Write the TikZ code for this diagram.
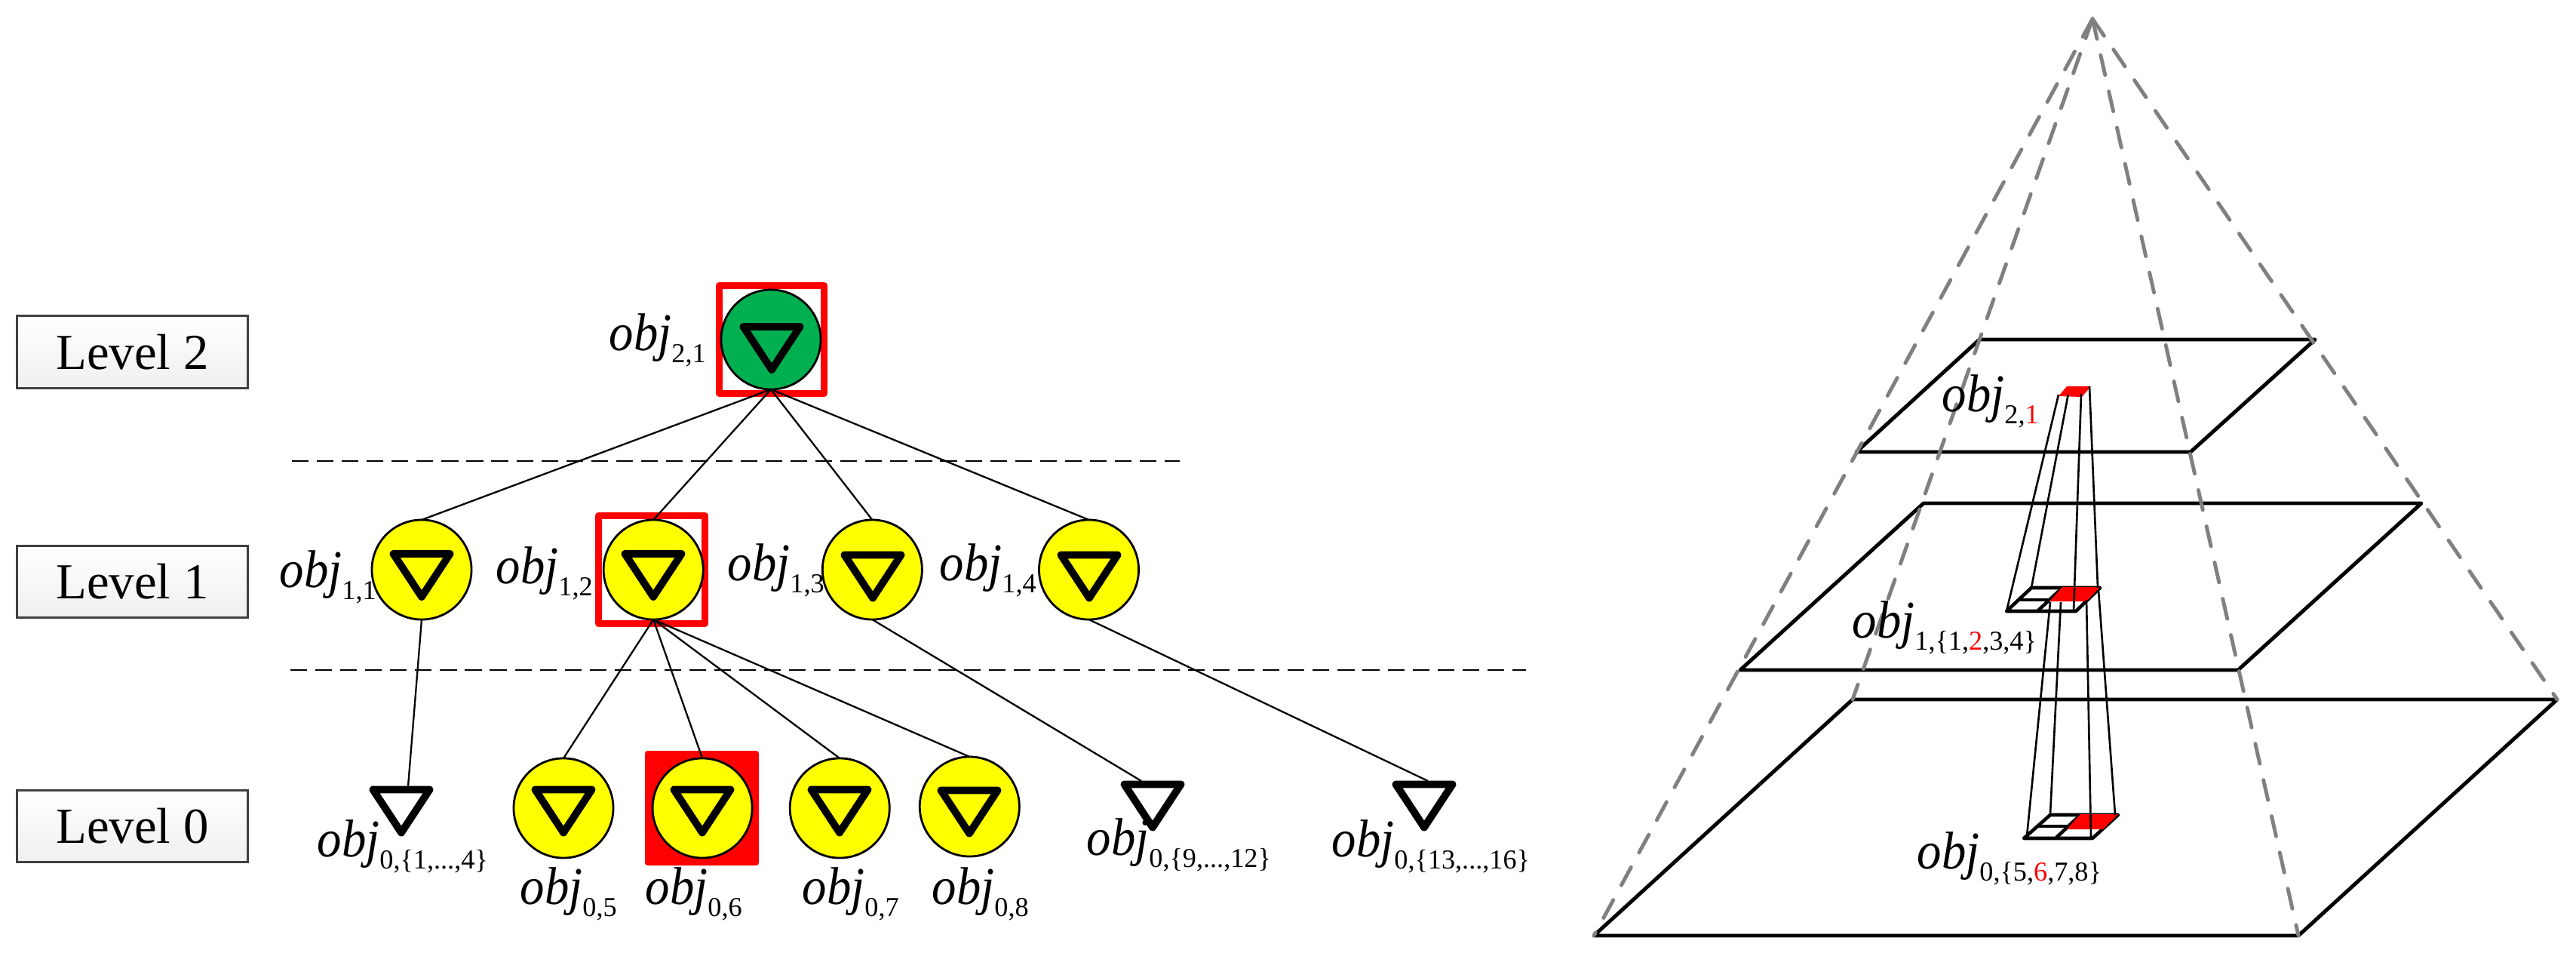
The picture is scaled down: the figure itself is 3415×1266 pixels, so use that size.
\documentclass[tikz,border=0pt]{standalone}
\usepackage{fontspec}
\setmainfont{Liberation Serif}
\usetikzlibrary{positioning}
\definecolor{rootgreen}{HTML}{00B050}
\definecolor{nodeyellow}{HTML}{FFFF00}
\definecolor{edgegray}{HTML}{808080}
\newcommand{\objname}[1]{\scalebox{0.92}[1]{\fontsize{20}{24}\selectfont\itshape obj}\raisebox{-4.8pt}{\fontsize{10.3}{12}\selectfont #1}}

\begin{document}
\begin{tikzpicture}[x=0.01cm, y=-0.01cm]
    \tikzset{
    vertex/.style=
    {
        circle,
        draw,
        line width=0.8pt,
        fill=nodeyellow,
        minimum size=1.32cm,
        inner sep=0pt,
        outer sep=0pt
    },
    levelbox/.style=
    {
        draw=black!75,
        line width=0.85pt,
        top color=white,
        bottom color=black!6,
        minimum width=3.05cm,
        minimum height=0.95cm,
        outer sep=0pt,
        font=\fontsize{19}{23}\selectfont
    },
    objlabel/.style=
    {
        anchor=base west,
        inner sep=0pt
    },
    link/.style=
    {
        line width=0.65pt
    },
    divider/.style=
    {
        line width=0.8pt,
        dash pattern=on 6.3pt off 3.1pt
    },
    redframe/.style=
    {
        draw=red,
        line width=2.6pt,
        line join=round
    },
    plane/.style=
    {
        line width=1.4pt,
        line join=round
    },
    cell/.style=
    {
        line width=1.3pt,
        line join=round
    },
    thread/.style=
    {
        line width=0.75pt
    },
    ridge/.style=
    {
        edgegray,
        line width=1.4pt,
        line cap=round,
        dash pattern=on 7.7pt off 6.3pt
    },
    marker/.pic=
    {
        \draw[line width=2.8pt, line join=round] (-37.5,-28.5) -- (37.5,-28.5) -- (0,28.5) -- cycle;
    }
}

  % levels
  \node[levelbox] (level2) at (175.5,466.5) {Level 2};
  \node[levelbox, below=2.09cm of level2] (level1) {Level 1};
  \node[levelbox, below=2.29cm of level1] (level0) {Level 0};

  \coordinate (divaa) at (387,611);
  \coordinate (divab) at (1564,611);
  \coordinate (divba) at (385,888);
  \coordinate (divbb) at (2023,888);
  \draw[divider] (divaa) -- (divab);
  \draw[divider] (divba) -- (divbb);

  % tree
  \draw[redframe] (953.5,378.5) rectangle (1092.5,521.5);
  \draw[redframe] (793.5,683.5) rectangle (934.5,826.5);
  \fill[red, rounded corners=1pt] (855,995) rectangle (1006,1147);

  \node[vertex, fill=rootgreen] (obj21) at (1022,450) {};
  \node[vertex] (obj11) at (559,755) {};
  \node[vertex, right=1.75cm of obj11] (obj12) {};
  \node[vertex, right=1.58cm of obj12] (obj13) {};
  \node[vertex, right=1.55cm of obj13] (obj14) {};
  \node[vertex] (obj05) at (747,1071) {};
  \node[vertex, right=0.52cm of obj05] (obj06) {};
  \node[vertex, right=0.50cm of obj06] (obj07) {};
  \node[vertex, right=0.40cm of obj07, yshift=0.02cm] (obj08) {};

  \coordinate (leafa) at (541,1042);
  \coordinate (leafb) at (1513,1035);
  \coordinate (leafc) at (1893,1035);

  \draw[link] (obj21.south) -- (obj11.north);
  \draw[link] (obj21.south) -- (obj12.north);
  \draw[link] (obj21.south) -- (obj13.north);
  \draw[link] (obj21.south) -- (obj14.north);
  \draw[link] (obj11.south) -- (leafa);
  \draw[link] (obj12.south) -- (obj05.north);
  \draw[link] (obj12.south) -- (obj06.north);
  \draw[link] (obj12.south) -- (obj07.north);
  \draw[link] (obj12.south) -- (obj08.north);
  \draw[link] (obj13.south) -- (leafb);
  \draw[link] (obj14.south) -- (leafc);

  \pic at (1023,461.5) {marker};
  \pic at (559,762.5) {marker};
  \pic at (866,762.5) {marker};
  \pic at (1157,764) {marker};
  \pic at (1444,764) {marker};
  \pic at (532,1075) {marker};
  \pic at (747,1075) {marker};
  \pic at (931,1075) {marker};
  \pic at (1113,1075) {marker};
  \pic at (1285,1076) {marker};
  \pic at (1528,1068) {marker};
  \pic at (1888,1068) {marker};

  \node[objlabel] (lab21) at (807,464) {\objname{2,1}};
  \node[objlabel] (lab11) at (370,778) {\objname{1,1}};
  \node[objlabel] (lab12) at (657,773) {\objname{1,2}};
  \node[objlabel] (lab13) at (964,769) {\objname{1,3}};
  \node[objlabel] (lab14) at (1245,769) {\objname{1,4}};
  \node[objlabel] (lab01) at (420,1135) {\objname{0,\{1,...,4\}}};
  \node[objlabel] (lab05) at (689,1198) {\objname{0,5}};
  \node[objlabel] (lab06) at (855,1198) {\objname{0,6}};
  \node[objlabel] (lab07) at (1063,1198) {\objname{0,7}};
  \node[objlabel] (lab08) at (1235,1198) {\objname{0,8}};
  \node[objlabel] (lab09) at (1440,1133) {\objname{0,\{9,...,12\}}};
  \node[objlabel] (lab13b) at (1765,1135) {\objname{0,\{13,...,16\}}};

  % pyramid
  \coordinate (apex) at (2774,25);
  \coordinate (basefl) at (2113,1240);
  \coordinate (basefr) at (3047,1240);
  \coordinate (basebr) at (3390,927);
  \coordinate (basebl) at (2456,927);
  \coordinate (midfl) at (2307,888);
  \coordinate (midfr) at (2967,888);
  \coordinate (midbr) at (3210,667);
  \coordinate (midbl) at (2550,667);
  \coordinate (topfl) at (2461,599);
  \coordinate (topfr) at (2904,599);
  \coordinate (topbr) at (3069,450);
  \coordinate (topbl) at (2624,450);

  \draw[plane] (basefl) -- (basefr) -- (basebr) -- (basebl) -- cycle;
  \draw[plane] (midfl) -- (midfr) -- (midbr) -- (midbl) -- cycle;
  \draw[plane] (topfl) -- (topfr) -- (topbr) -- (topbl) -- cycle;

  \draw[ridge] (apex) -- (basefl);
  \draw[ridge] (apex) -- (basefr);
  \draw[ridge] (apex) -- (basebr);
  \draw[ridge] (apex) -- (basebl);

  % cells on the middle plane
  \draw[cell] (2660,810) -- (2752,810) -- (2784,779) -- (2693,779) -- cycle;
  \draw[cell] (2677,795) -- (2718,795);
  \draw[cell] (2702,809) -- (2734,779);
  \fill[red] (2717,797) -- (2734,778) -- (2784,778) -- (2766,797) -- cycle;

  % cells on the lowest plane
  \draw[cell] (2683,1111) -- (2774,1111) -- (2808,1080) -- (2718,1080) -- cycle;
  \draw[cell] (2702,1095) -- (2740,1095);
  \draw[cell] (2726,1110) -- (2758,1080);
  \fill[red] (2740,1099) -- (2758,1079) -- (2808,1079) -- (2788,1099) -- cycle;

  % cell on the top plane
  \fill[red] (2729,525) -- (2740,512) -- (2772,512) -- (2760,526) -- cycle;

  \coordinate (upa) at (2729,523);
  \coordinate (upb) at (2741.7,523);
  \coordinate (upc) at (2759,522);
  \coordinate (upd) at (2770,512);
  \coordinate (cena) at (2660,810);
  \coordinate (cenb) at (2693,779);
  \coordinate (cenc) at (2749,810);
  \coordinate (cend) at (2781,779);
  \coordinate (cene) at (2718,798);
  \coordinate (cenf) at (2732,798);
  \coordinate (ceng) at (2766,795);
  \coordinate (cenh) at (2782,783);
  \coordinate (lowa) at (2687,1108);
  \coordinate (lowb) at (2718,1079);
  \coordinate (lowc) at (2772,1110);
  \coordinate (lowd) at (2804,1080);

  \draw[thread] (upa) -- (cena);
  \draw[thread] (upb) -- (cenb);
  \draw[thread] (upc) -- (cenc);
  \draw[thread] (upd) -- (cend);
  \draw[thread] (cene) -- (lowa);
  \draw[thread] (cenf) -- (lowb);
  \draw[thread] (ceng) -- (lowc);
  \draw[thread] (cenh) -- (lowd);

  \node[objlabel] (lab2p) at (2574,545) {\objname{2,\textcolor{red}{1}}};
  \node[objlabel] (lab1p) at (2455,845) {\objname{1,\{1,\textcolor{red}{2},3,4\}}};
  \node[objlabel] (lab0p) at (2541,1151) {\objname{0,\{5,\textcolor{red}{6},7,8\}}};

  \useasboundingbox (0,0) rectangle (3415,1266);

\end{tikzpicture}
\end{document}
